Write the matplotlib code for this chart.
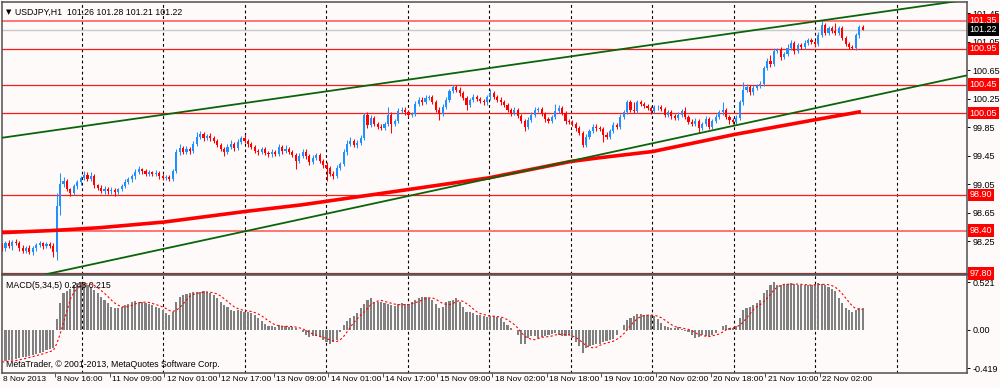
import numpy as np
import pandas as pd
import matplotlib
matplotlib.use("Agg")
import matplotlib.pyplot as plt
from matplotlib.transforms import blended_transform_factory, offset_copy

plt.rcParams['font.family'] = ['Liberation Sans', 'DejaVu Sans']

BG = "#fffafa"
BULL = "#1e90ff"
BEAR = "#ff0000"
FRAME = "#505050"

# ---- data (USDJPY H1) ----
first_open = 98.18
closes = [
    98.15, 98.22, 98.18, 98.24, 98.23, 98.15, 98.12, 98.16, 98.10, 98.15,
    98.20, 98.22, 98.18, 98.21, 98.19, 98.10, 98.75, 99.05, 99.10, 98.98,
    98.93, 99.02, 99.08, 99.14, 99.18, 99.12, 99.16, 99.04, 99.00, 98.96,
    98.99, 98.95, 98.97, 98.94, 98.98, 99.03, 99.08, 99.12, 99.16, 99.22,
    99.26, 99.23, 99.20, 99.22, 99.19, 99.21, 99.17, 99.14, 99.15, 99.12,
    99.24, 99.50, 99.56, 99.50, 99.55, 99.52, 99.62, 99.72, 99.76, 99.70,
    99.73, 99.70, 99.66, 99.60, 99.55, 99.50, 99.58, 99.62, 99.56, 99.65,
    99.70, 99.66, 99.62, 99.58, 99.52, 99.50, 99.54, 99.49, 99.47, 99.50,
    99.48, 99.57, 99.52, 99.55, 99.50, 99.46, 99.38, 99.45, 99.51, 99.45,
    99.36, 99.42, 99.46, 99.38, 99.32, 99.28, 99.20, 99.17, 99.28, 99.33,
    99.50, 99.62, 99.66, 99.60, 99.63, 99.70, 100.02, 99.88, 99.98, 99.90,
    99.86, 99.84, 99.90, 100.03, 99.90, 99.94, 100.08, 100.10, 100.06, 100.02,
    100.04, 100.18, 100.24, 100.21, 100.26, 100.28, 100.21, 100.10, 100.04, 100.14,
    100.24, 100.36, 100.41, 100.38, 100.33, 100.26, 100.17, 100.23, 100.28, 100.25,
    100.22, 100.20, 100.27, 100.33, 100.28, 100.24, 100.21, 100.16, 100.09, 100.05,
    100.09, 100.01, 99.94, 99.86, 99.95, 100.03, 100.10, 100.11, 100.04, 99.96,
    99.94, 100.00, 100.08, 100.12, 100.05, 99.94, 99.92, 99.90, 99.84, 99.77,
    99.60, 99.72, 99.80, 99.86, 99.84, 99.83, 99.74, 99.72, 99.80, 99.88,
    99.85, 100.00, 100.07, 100.20, 100.10, 100.08, 100.20, 100.18, 100.15, 100.12,
    100.08, 100.13, 100.14, 100.11, 100.02, 100.06, 100.01, 99.98, 100.03, 100.08,
    100.00, 99.93, 99.90, 99.94, 99.84, 99.90, 99.97, 99.86, 99.94, 100.00,
    100.06, 100.09, 100.00, 99.95, 99.93, 99.98, 100.20, 100.38, 100.42, 100.34,
    100.40, 100.43, 100.46, 100.68, 100.78, 100.74, 100.92, 100.94, 100.84, 100.88,
    100.96, 101.03, 100.92, 101.01, 100.98, 101.04, 101.08, 101.05, 101.02, 101.15,
    101.29, 101.18, 101.24, 101.20, 101.18, 101.24, 101.10, 101.02, 100.98, 100.96,
    101.14, 101.26, 101.22,
]
# wick lengths in pips above/below the body
upper_wick = [
    4, 3, 5, 3, 4, 2, 5, 3, 4, 3,   3, 4, 2, 3, 3, 4, 18, 16, 5, 3,
    2, 4, 3, 3, 6, 4, 6, 3, 2, 4,   3, 2, 4, 3, 2, 3, 4, 3, 3, 4,
    5, 2, 3, 3, 2, 4, 3, 2, 3, 3,   3, 4, 5, 3, 4, 3, 4, 7, 4, 3,
    3, 4, 3, 2, 3, 3, 4, 5, 3, 4,   3, 4, 3, 3, 2, 3, 4, 3, 3, 4,
    3, 4, 3, 5, 3, 3, 3, 4, 3, 3,   3, 4, 3, 3, 3, 4, 3, 3, 4, 3,
    4, 5, 6, 3, 4, 4, 3, 4, 5, 3,   3, 4, 3, 11, 4, 3, 4, 3, 3, 4,
    3, 4, 3, 3, 4, 3, 3, 3, 4, 4,   3, 3, 4, 3, 3, 3, 3, 3, 4, 3,
    3, 3, 4, 6, 3, 3, 3, 3, 3, 3,   4, 3, 3, 3, 4, 3, 4, 3, 3, 3,
    4, 3, 10, 4, 3, 3, 3, 3, 3, 3,  3, 4, 3, 3, 4, 3, 3, 4, 3, 4,
    3, 4, 3, 4, 3, 10, 3, 4, 3, 3,  3, 4, 3, 3, 3, 4, 3, 3, 4, 3,
    6, 3, 3, 4, 3, 3, 4, 3, 3, 4,   3, 12, 3, 3, 3, 4, 4, 10, 4, 3,
    4, 3, 4, 3, 4, 9, 4, 3, 4, 3,   6, 4, 3, 3, 3, 4, 3, 3, 3, 4,
    6, 3, 3, 3, 11, 3, 3, 3, 3, 2,  3, 3, 2,
]
lower_wick = [
    3, 4, 3, 5, 3, 4, 3, 4, 3, 5,   3, 3, 4, 3, 3, 7, 12, 13, 4, 3,
    5, 3, 3, 4, 3, 3, 3, 4, 3, 3,   4, 3, 3, 5, 3, 3, 3, 3, 4, 3,
    3, 4, 3, 3, 3, 3, 4, 3, 3, 3,   3, 3, 4, 3, 3, 4, 3, 3, 3, 4,
    3, 4, 3, 3, 3, 5, 3, 3, 4, 3,   3, 3, 4, 3, 3, 4, 3, 3, 4, 3,
    3, 3, 4, 3, 3, 3, 11, 3, 3, 4,  4, 3, 3, 3, 4, 19, 4, 4, 3, 3,
    3, 4, 3, 3, 4, 3, 3, 4, 3, 3,   4, 3, 3, 3, 13, 3, 3, 3, 4, 3,
    3, 3, 3, 4, 3, 3, 3, 4, 9, 3,   3, 3, 3, 3, 4, 3, 8, 3, 3, 3,
    3, 4, 3, 3, 3, 3, 4, 3, 3, 4,   3, 3, 3, 6, 3, 3, 3, 3, 3, 4,
    3, 3, 3, 3, 3, 4, 3, 3, 4, 3,   3, 3, 3, 3, 4, 3, 10, 4, 3, 3,
    3, 3, 3, 3, 4, 3, 3, 3, 3, 3,   4, 3, 3, 3, 3, 3, 4, 3, 3, 3,
    3, 4, 3, 3, 7, 3, 3, 4, 3, 3,   3, 3, 4, 5, 3, 3, 3, 3, 4, 3,
    3, 3, 3, 3, 3, 4, 3, 3, 4, 3,   3, 3, 4, 3, 3, 3, 3, 3, 4, 3,
    3, 3, 3, 3, 3, 4, 3, 3, 3, 1,   3, 3, 1,
]
macd = [
    -0.35, -0.34, -0.33, -0.33, -0.32, -0.31, -0.30, -0.29, -0.28, -0.27,
    -0.26, -0.25, -0.24, -0.22, -0.21, -0.20,
    0.12, 0.29, 0.40, 0.42, 0.45, 0.49, 0.51, 0.52, 0.51, 0.49,
    0.47, 0.44, 0.40, 0.36, 0.33, 0.29, 0.25, 0.24, 0.24, 0.25,
    0.27, 0.28, 0.30, 0.32, 0.31, 0.30, 0.29, 0.28, 0.27, 0.25,
    0.24, 0.22, 0.19, 0.16, 0.20, 0.31, 0.36, 0.38, 0.39, 0.40,
    0.41, 0.415, 0.41, 0.42, 0.415, 0.40, 0.38, 0.35, 0.31, 0.27,
    0.25, 0.22, 0.21, 0.22, 0.21, 0.20, 0.20, 0.18, 0.16, 0.13,
    0.10, 0.07, 0.04, 0.04, 0.03, 0.05, 0.04, 0.04, 0.03, 0.03,
    0.02, 0.00, -0.02,
    -0.05, -0.08, -0.07, -0.07, -0.08, -0.11, -0.13, -0.15, -0.13, -0.11,
    -0.02, 0.05, 0.10, 0.13, 0.15, 0.18, 0.24, 0.28, 0.33, 0.35,
    0.31, 0.31, 0.31, 0.29, 0.28, 0.27, 0.26, 0.28, 0.29, 0.28,
    0.28, 0.31, 0.33, 0.35, 0.36, 0.36, 0.35, 0.33, 0.28, 0.24,
    0.25, 0.30, 0.32, 0.33, 0.35, 0.31, 0.25, 0.20, 0.20, 0.18,
    0.16, 0.16, 0.15, 0.14, 0.15, 0.15, 0.14, 0.13, 0.09, 0.05,
    0.02, 0.00, -0.05, -0.15, -0.15, -0.09, -0.07, -0.07, -0.09, -0.08,
    -0.07, -0.05, -0.04, -0.03, -0.05, -0.07, -0.07, -0.05, -0.09, -0.13,
    -0.18, -0.25, -0.20,
    -0.18, -0.16, -0.15, -0.15, -0.13, -0.12, -0.11, -0.10, -0.05, 0.00,
    0.05, 0.11, 0.13, 0.15, 0.17, 0.17, 0.16, 0.16, 0.16, 0.15,
    0.12, 0.08, 0.04, 0.03, 0.02, 0.02, 0.03, 0.01, -0.01, -0.02,
    -0.05, -0.09, -0.08, -0.05, -0.07, -0.07, -0.05, -0.03, 0.00, 0.04,
    0.05, 0.02, 0.02, 0.04, 0.13, 0.22, 0.24, 0.25, 0.27, 0.29,
    0.33, 0.40, 0.44, 0.49, 0.52, 0.49, 0.49, 0.50, 0.50, 0.51,
    0.50, 0.49, 0.49, 0.49, 0.49, 0.49, 0.50, 0.51, 0.50, 0.49,
    0.47, 0.45, 0.42, 0.35, 0.29, 0.24, 0.22, 0.20, 0.22, 0.24,
    0.243,
]
ma_bars = [0, 15, 29, 48, 72, 88, 120, 143, 167, 175, 191, 215, 239, 252]
ma_values = [98.37, 98.40, 98.44, 98.52, 98.67, 98.76, 98.98, 99.14, 99.37,
             99.42, 99.51, 99.75, 99.96, 100.07]
upper_trend_bars = [0, 258]
upper_trend_prices = [99.70, 101.47]
lower_trend_bars = [14.7, 258]
lower_trend_prices = [97.80, 100.32]
levels = [101.35, 100.95, 100.45, 100.05, 98.90, 98.40, 97.80]
bid = 101.22
price_ticks = [101.45, 101.05, 100.65, 100.25, 99.85, 99.45, 99.05, 98.65, 98.25, 97.85]
macd_ticks = [0.521, 0.0, -0.419]
macd_tick_labels = ["0.521", "0.00", "-0.419"]
time_labels = ["8 Nov 2013", "8 Nov 16:00", "11 Nov 09:00", "12 Nov 01:00",
               "12 Nov 17:00", "13 Nov 09:00", "14 Nov 01:00", "14 Nov 17:00",
               "15 Nov 09:00", "18 Nov 02:00", "18 Nov 18:00", "19 Nov 10:00",
               "20 Nov 02:00", "20 Nov 18:00", "21 Nov 10:00", "22 Nov 02:00"]

# ---- derived ----
c = np.array(closes)
o = np.array([first_open] + closes[:-1])
hi = np.maximum(o, c) + np.array(upper_wick) / 100
lo = np.minimum(o, c) - np.array(lower_wick) / 100
x = np.arange(len(c)) + 0.5
cols = np.where(c >= o, BULL, BEAR)
signal = pd.Series(macd).rolling(5, min_periods=1).mean()

XMIN, XMAX = 0.48, 283.05
FS = 6
FS_R = 6.5

fig = plt.figure(figsize=(10, 3.88), dpi=100, facecolor=BG)
ax = fig.add_axes([0.002, 1 - 274 / 388, 0.965, 272 / 388], facecolor=BG)
ax2 = fig.add_axes([0.002, 1 - 372.5 / 388, 0.965, 97.5 / 388], facecolor=BG)

for a in (ax, ax2):
    a.set_xlim(XMIN, XMAX)
    for s in a.spines.values():
        s.set_color(FRAME)
        s.set_linewidth(1.1)
    a.yaxis.tick_right()
    a.tick_params(axis="y", length=2.5, width=0.7, pad=1.5, labelsize=FS_R, colors="black")
    for k in range(1, 12):
        a.axvline(23.86 * k, color="black", lw=0.8, ls=(0, (2.5, 2.5)), zorder=1)

# main panel
ax.set_ylim(97.79, 101.61)
ax.set_yticks(price_ticks)
ax.set_yticklabels([f"{p:.2f}" for p in price_ticks])
ax.set_xticks([])

for lv in levels:
    light = lv in (101.35, 98.40)
    ax.axhline(lv, color="#ff6a6a" if light else "#ff1a1a", lw=1.3 if light else 0.9, zorder=2)
ax.axhline(bid, color="#c8c8c8", lw=1.0, zorder=2)

ax.vlines(x, lo, hi, colors=cols, lw=0.75, zorder=4)
ax.bar(x, np.maximum(np.abs(c - o), 0.006), bottom=np.minimum(o, c), width=0.62,
       color=cols, linewidth=0, zorder=5)

ax.plot(ma_bars, ma_values, color="#ff0000", lw=2.6, solid_capstyle="butt", zorder=6)
for bx, py in ((upper_trend_bars, upper_trend_prices), (lower_trend_bars, lower_trend_prices)):
    slope = (py[1] - py[0]) / (bx[1] - bx[0])
    xs = np.array([XMIN, XMAX])
    ax.plot(xs, py[0] + slope * (xs - bx[0]), color="#0a640a", lw=1.3, zorder=6)

tr = blended_transform_factory(ax.transAxes, ax.transData)
for lv in levels:
    ax.text(1.0025, lv, f"{lv:.2f}", transform=tr, fontsize=FS_R, color="white",
            va="center", ha="left", zorder=10, clip_on=False,
            bbox=dict(boxstyle="square,pad=0.2", fc="#ff0000", ec="none"))
ax.text(1.0025, bid, f"{bid:.2f}", transform=tr, fontsize=FS_R, color="white",
        va="center", ha="left", zorder=10, clip_on=False,
        bbox=dict(boxstyle="square,pad=0.2", fc="black", ec="none"))

ax.text(0.004, 0.975, "▼", transform=ax.transAxes, fontsize=5,
        family=["DejaVu Sans"], va="top", ha="left")
ax.text(0.0135, 0.978, "USDJPY,H1  101.26 101.28 101.21 101.22",
        transform=ax.transAxes, fontsize=6.3, va="top", ha="left")

# MACD panel
ax2.set_ylim(-0.464, 0.60)
ax2.set_yticks(macd_ticks)
ax2.set_yticklabels(macd_tick_labels)
ax2.bar(x, macd, width=0.62, color="#808080", linewidth=0, zorder=3)
ax2.plot(x, signal, color="#ff0000", lw=0.8, ls=(0, (2, 2)), zorder=4)
ax2.text(0.004, 0.94, "MACD(5,34,5) 0.243 0.215", transform=ax2.transAxes,
         fontsize=6.3, va="top", ha="left")
ax2.text(0.004, 0.035, "MetaTrader, © 2001-2013, MetaQuotes Software Corp.",
         transform=ax2.transAxes, fontsize=6.3, va="bottom", ha="left")

tick_bars = [16 * k for k in range(len(time_labels))]
ax2.set_xticks(tick_bars[1:])
ax2.set_xticklabels([])
ax2.tick_params(axis="x", length=3, width=0.7, direction="out", colors=FRAME)
trx = blended_transform_factory(ax2.transData, ax2.transAxes)
for b, lab in zip(tick_bars, time_labels):
    t = offset_copy(trx, fig=fig, x=2, y=-2.5, units="points")
    ax2.text(b - 0.36 / 3.415, 0, lab, transform=t, fontsize=FS, va="top",
             ha="left", clip_on=False)

fig.savefig("out.png", dpi=100, facecolor=BG)
